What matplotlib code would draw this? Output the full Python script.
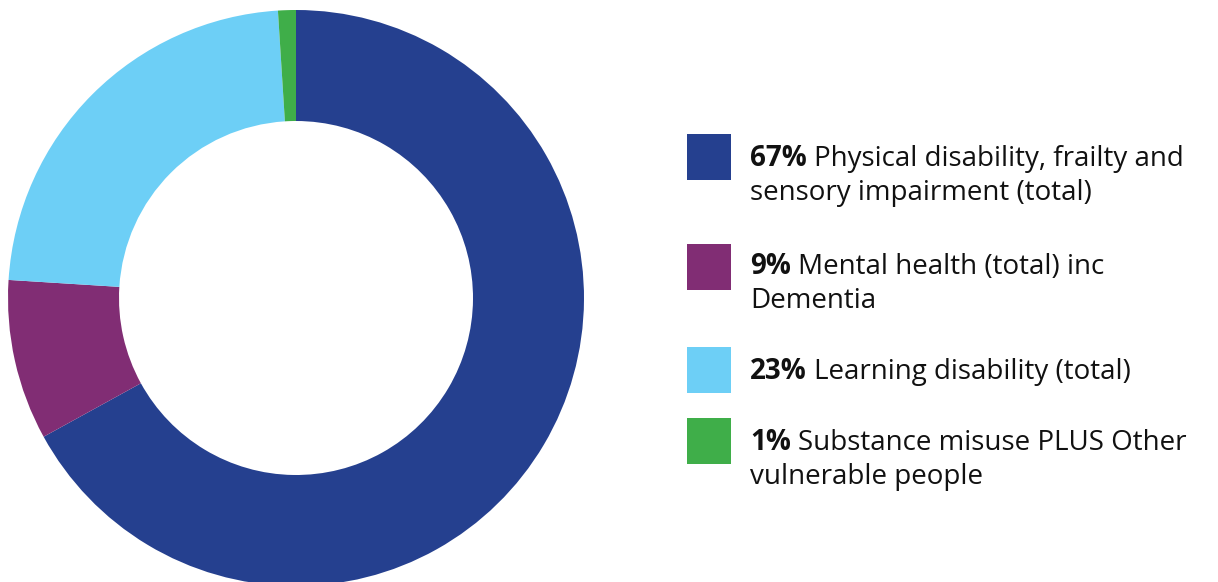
import matplotlib
matplotlib.use('Agg')
import matplotlib.pyplot as plt
from matplotlib.patches import Rectangle

# data
shares = [67, 9, 23, 1]
pcts = ['67%', '9%', '23%', '1%']
labels = [
    ['Physical disability, frailty and', 'sensory impairment (total)'],
    ['Mental health (total) inc', 'Dementia'],
    ['Learning disability (total)'],
    ['Substance misuse PLUS Other', 'vulnerable people'],
]
colors = ['#25408F', '#812D74', '#6DCFF6', '#3FAE49']

W, H = 1218, 582
plt.rcParams['font.family'] = ['Open Sans', 'DejaVu Sans']
fig = plt.figure(figsize=(W / 100, H / 100), dpi=100)

# donut, centre (296, 298) px from top-left, radius 288 px
cx, cy, r = 296, 298, 288
ax = fig.add_axes([(cx - r) / W, (H - cy - r) / H, 2 * r / W, 2 * r / H])
ax.pie(shares, colors=colors, startangle=90, counterclock=False, radius=1,
       wedgeprops=dict(width=1 - 177 / 288, linewidth=0))
ax.set_xlim(-1, 1)
ax.set_ylim(-1, 1)
ax.set_aspect('equal')
ax.axis('off')

# legend, drawn by hand in pixel positions
box_tops = [134, 244, 347, 418]
baselines = [166, 274, 379, 450]
fs = 20
line_h = 34
renderer = fig.canvas.get_renderer()
for i in range(len(shares)):
    top = box_tops[i]
    fig.add_artist(Rectangle((687 / W, 1 - (top + 46) / H), 44 / W, 46 / H,
                             transform=fig.transFigure, color=colors[i], lw=0))
    base = baselines[i]
    t = fig.text(750 / W, 1 - base / H, pcts[i], fontsize=fs, fontweight='bold',
                 color='#111111', va='baseline', ha='left')
    bb = t.get_window_extent(renderer)
    fig.text((bb.x1 + 7) / W, 1 - base / H, labels[i][0], fontsize=fs,
             color='#111111', va='baseline', ha='left')
    for j, extra in enumerate(labels[i][1:]):
        fig.text(750 / W, 1 - (base + line_h * (j + 1)) / H, extra, fontsize=fs,
                 color='#111111', va='baseline', ha='left')

fig.savefig('out.png', dpi=100)
